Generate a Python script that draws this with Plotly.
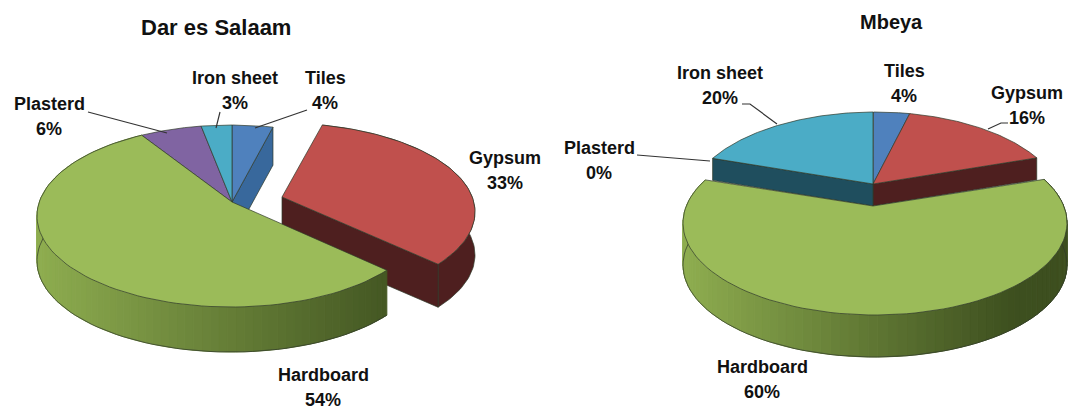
import numpy as np
import plotly.graph_objects as go

categories = ['Tiles', 'Gypsum', 'Hardboard', 'Plasterd', 'Iron sheet']
dar_values = [4, 33, 54, 6, 3]
mbeya_values = [4, 16, 60, 0, 20]

top_colors = {'Tiles': '#4f81bd', 'Gypsum': '#c0504d', 'Hardboard': '#9bbb59',
              'Plasterd': '#8064a2', 'Iron sheet': '#4bacc6'}
wall_colors = {'Tiles': '#38689c', 'Gypsum': '#4e1f1f', 'Iron sheet': '#1f4e5e'}
WALL_LIGHT = np.array([143, 174, 80])
WALL_DARK = np.array([61, 79, 31])
EDGE = '#2f3a2a'

fig = go.Figure()


def poly(xs, ys, color, line=None, width=0.7):
    fig.add_trace(go.Scatter(x=list(xs), y=list(ys), mode='lines', fill='toself', fillcolor=color,
                             line=dict(color=line or color, width=width), hoverinfo='skip'))


def rim(theta, geo):
    # where the ray from the apex meets the ellipse, the apex sits off centre for the perspective look
    rx, ry = geo['rx'], geo['ry']
    dx, dy = rx * np.sin(theta), -ry * np.cos(theta)
    ox, oy = geo['apex'][0] - geo['center'][0], geo['apex'][1] - geo['center'][1]
    a = (dx / rx) ** 2 + (dy / ry) ** 2
    b = 2 * (ox * dx / rx ** 2 + oy * dy / ry ** 2)
    c = (ox / rx) ** 2 + (oy / ry) ** 2 - 1
    t = (-b + np.sqrt(b * b - 4 * a * c)) / (2 * a)
    return geo['apex'][0] + t * dx, geo['apex'][1] + t * dy


def spans(values):
    edges = np.cumsum([0] + values) / sum(values) * 2 * np.pi
    return {n: (edges[i], edges[i + 1]) for i, n in enumerate(categories)}


def radial_wall(name, theta, geo, depth):
    ex, ey = rim(theta, geo)
    ax, ay = geo['apex']
    poly([ax, ex, ex, ax, ax], [ay, ey, ey + depth, ay + depth, ay], wall_colors[name], EDGE)


def curved_wall(name, span, geo, depth):
    xs, ys = rim(np.linspace(span[0], span[1], 90), geo)
    poly(list(xs) + list(xs[::-1]), list(ys) + list(ys[::-1] + depth), wall_colors[name], EDGE)


def gradient_wall(span, geo, depth):
    xs, ys = rim(np.linspace(span[0], span[1], 90), geo)
    xmin, xmax = geo['center'][0] - geo['rx'], geo['center'][0] + geo['rx'] * geo['dark_at']
    for i in range(len(xs) - 1):
        f = np.clip((xs[i] - xmin) / (xmax - xmin), 0, 1)
        rgb = (WALL_LIGHT + (WALL_DARK - WALL_LIGHT) * f).astype(int)
        color = 'rgb(%d,%d,%d)' % tuple(rgb)
        poly([xs[i], xs[i + 1], xs[i + 1], xs[i], xs[i]],
             [ys[i], ys[i + 1], ys[i + 1] + depth, ys[i] + depth, ys[i]], color, width=1)
    fig.add_trace(go.Scatter(x=xs, y=ys + depth, mode='lines', line=dict(color=EDGE, width=0.7), hoverinfo='skip'))


def draw_top(name, span, geo):
    xs, ys = rim(np.linspace(span[0], span[1], 90), geo)
    ax, ay = geo['apex']
    poly([ax] + list(xs) + [ax], [ay] + list(ys) + [ay], top_colors[name], EDGE)


# left pie
dar = dict(apex=(232, 202), center=(231, 216), rx=194, ry=91, dark_at=1.0)
gyp = dict(apex=(282, 197), center=(281, 212), rx=194, ry=89)
s = spans(dar_values)
curved_wall('Gypsum', s['Gypsum'], gyp, 43)
radial_wall('Gypsum', s['Gypsum'][1], gyp, 43)
draw_top('Gypsum', s['Gypsum'], gyp)
radial_wall('Tiles', s['Tiles'][1], dar, 38)
for n in ['Tiles', 'Plasterd', 'Iron sheet']:
    draw_top(n, s[n], dar)
gradient_wall(s['Hardboard'], dar, 45)
draw_top('Hardboard', s['Hardboard'], dar)

# right pie, the hardboard slice sits lower than the rest
mbeya_low = dict(apex=(873, 206), center=(875, 223), rx=192, ry=92, dark_at=0.75)
mbeya_high = dict(apex=(873, 184), center=(875, 204), rx=187, ry=92)
s = spans(mbeya_values)
radial_wall('Gypsum', s['Gypsum'][1], mbeya_high, 22)
radial_wall('Iron sheet', s['Iron sheet'][0], mbeya_high, 22)
for n in ['Tiles', 'Gypsum', 'Iron sheet']:
    draw_top(n, s[n], mbeya_high)
gradient_wall(s['Hardboard'], mbeya_low, 42)
draw_top('Hardboard', s['Hardboard'], mbeya_low)

# leader lines
leaders = [
    ([88, 167], [112, 133]),
    ([220, 216], [112, 128]),
    ([307, 255], [110, 128]),
    ([742, 750, 777], [104, 104, 124]),
    ([637, 710], [155, 161]),
    ([1008, 1001, 988], [123, 123, 129]),
]
for lx, ly in leaders:
    fig.add_trace(go.Scatter(x=lx, y=ly, mode='lines', line=dict(color='#333333', width=1.2), hoverinfo='skip'))

font = dict(family='Liberation Sans', size=18, color='#111111', weight='bold')


def label(text, x, y, size=18):
    fig.add_annotation(x=x, y=y, text=text, showarrow=False, xanchor='center', yanchor='middle',
                       font=dict(font, size=size))


dar_pos = {'Tiles': (325, 78), 'Gypsum': (505, 158), 'Hardboard': (323, 375),
           'Plasterd': (49, 104), 'Iron sheet': (235, 78)}
mbeya_pos = {'Tiles': (904, 71), 'Gypsum': (1027, 93), 'Hardboard': (762, 367),
             'Plasterd': (599, 148), 'Iron sheet': (720, 73)}
for pos, values in [(dar_pos, dar_values), (mbeya_pos, mbeya_values)]:
    for n, v in zip(categories, values):
        label(n, pos[n][0], pos[n][1])
        label('%d%%' % v, pos[n][0], pos[n][1] + 25)

label('Dar es Salaam', 216, 27, 22)
label('Mbeya', 891, 22, 20)

fig.update_xaxes(range=[0, 1072], visible=False, fixedrange=True)
fig.update_yaxes(range=[409, 0], visible=False, fixedrange=True)
fig.update_layout(width=1072, height=409, margin=dict(l=0, r=0, t=0, b=0), showlegend=False,
                  paper_bgcolor='white', plot_bgcolor='white')
fig.write_html("out.html", config=dict(displayModeBar=False),
               post_script="document.body.style.margin='0';document.body.style.overflow='hidden';")
